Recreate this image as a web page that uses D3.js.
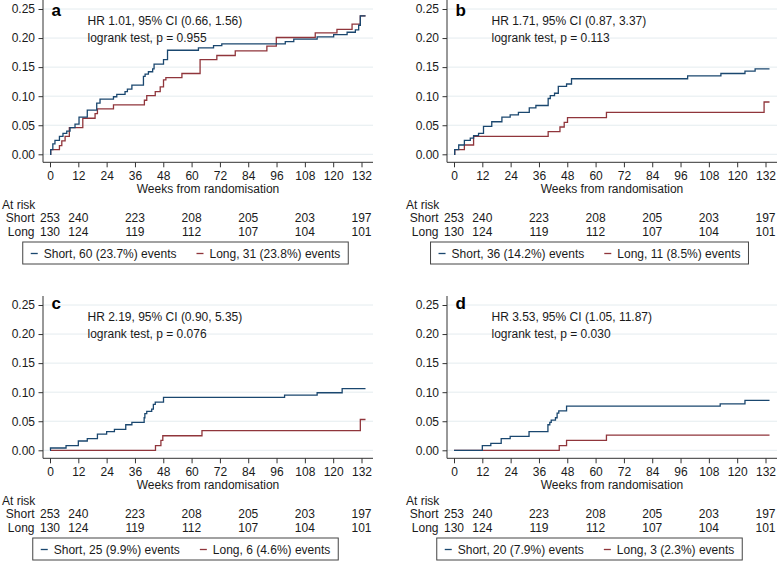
<!DOCTYPE html>
<html><head><meta charset="utf-8">
<script src="https://cdn.jsdelivr.net/npm/d3@7"></script>
<style>
html,body{margin:0;padding:0;background:#fff;}
svg{display:block;font-family:"Liberation Sans",Arial,Helvetica,sans-serif;}
</style></head><body>
<svg id="chart" width="778" height="561"></svg>
<script>
// ---------- data ----------
const xTicks = [0, 12, 24, 36, 48, 60, 72, 84, 96, 108, 120, 132];
const yTicks = [0, 0.05, 0.10, 0.15, 0.20, 0.25];
const atRiskTimes = [0, 12, 36, 60, 84, 108, 132];
const atRiskShort = [253, 240, 223, 208, 205, 203, 197];
const atRiskLong = [130, 124, 119, 112, 107, 104, 101];
const followUpEnd = 133.7;

const panelLetters = ["a", "b", "c", "d"];
const hrTexts = ["HR 1.01, 95% CI (0.66, 1.56)", "HR 1.71, 95% CI (0.87, 3.37)",
                 "HR 2.19, 95% CI (0.90, 5.35)", "HR 3.53, 95% CI (1.05, 11.87)"];
const pTexts = ["logrank test, p = 0.955", "logrank test, p = 0.113",
                "logrank test, p = 0.076", "logrank test, p = 0.030"];
const shortLegend = ["Short, 60 (23.7%) events", "Short, 36 (14.2%) events",
                     "Short, 25 (9.9%) events", "Short, 20 (7.9%) events"];
const longLegend = ["Long, 31 (23.8%) events", "Long, 11 (8.5%) events",
                    "Long, 6 (4.6%) events", "Long, 3 (2.3%) events"];

// cumulative incidence steps: [week, value]
const aShort = [[0,0],[0.3,0.008],[1.2,0.018],[2.1,0.024],[4.0,0.031],[5.5,0.036],[7.1,0.040],[8.5,0.046],[10.6,0.052],[12.3,0.064],[15.8,0.076],[19.8,0.088],[21.2,0.095],[26.9,0.099],[28.3,0.103],[31.8,0.108],[32.8,0.112],[34.7,0.119],[39.6,0.134],[40.3,0.138],[41.7,0.142],[43.5,0.147],[44.1,0.155],[48.1,0.163],[49.8,0.179],[62.9,0.183],[69.3,0.187],[72.8,0.190],[99.7,0.194],[103.3,0.198],[113.2,0.202],[120.2,0.206],[125.9,0.210],[129.4,0.214],[130.8,0.222],[131.5,0.238]];
const aLong = [[0,0],[0.3,0.008],[4.0,0.015],[5.0,0.023],[6.4,0.031],[8.2,0.046],[13.9,0.062],[19.1,0.070],[20.1,0.078],[26.9,0.085],[40.0,0.093],[41.0,0.101],[44.6,0.108],[46.7,0.116],[48.1,0.128],[49.1,0.132],[55.9,0.139],[63.6,0.163],[70.7,0.170],[78.5,0.178],[91.9,0.186],[95.9,0.201],[112.4,0.209],[121.6,0.215],[128.0,0.224],[131.5,0.238]];
const bShort = [[0,0],[0.3,0.008],[2.0,0.016],[4.4,0.024],[6.9,0.028],[8.3,0.032],[10.4,0.036],[12.5,0.048],[16.0,0.056],[20.3,0.064],[23.8,0.068],[27.3,0.072],[31.9,0.080],[34.7,0.084],[39.9,0.096],[40.8,0.101],[42.6,0.105],[44.2,0.117],[47.7,0.121],[49.8,0.130],[99.0,0.135],[113.1,0.139],[123.3,0.143],[127.6,0.147]];
const bLong = [[0,0],[0.3,0.008],[4.4,0.016],[8.3,0.031],[39.9,0.039],[44.9,0.047],[46.7,0.055],[48.1,0.063],[64.6,0.072],[131.4,0.090]];
const cShort = [[0,0],[0.2,0.004],[6.8,0.008],[12.0,0.016],[15.8,0.020],[20.1,0.028],[24.0,0.032],[27.3,0.036],[32.1,0.044],[34.7,0.048],[39.9,0.056],[40.2,0.063],[41.0,0.067],[43.1,0.071],[43.8,0.079],[44.6,0.083],[48.1,0.091],[99.4,0.095],[113.2,0.099],[123.8,0.106]];
const cLong = [[0,0],[44.7,0.008],[47.0,0.017],[47.8,0.025],[64.4,0.034],[131.5,0.053]];
const dShort = [[0,0],[12.0,0.008],[15.6,0.012],[20.0,0.020],[23.8,0.024],[31.8,0.032],[39.8,0.044],[40.6,0.048],[41.2,0.052],[43.0,0.056],[43.7,0.064],[44.4,0.068],[47.7,0.076],[112.8,0.080],[123.3,0.086]];
const dLong = [[0,0],[44.6,0.008],[47.7,0.017],[64.6,0.026]];

const shortSeries = [aShort, bShort, cShort, dShort];
const longSeries = [aLong, bLong, cLong, dLong];

// ---------- drawing ----------
const svg = d3.select("#chart");
const blue = "#1a476f", red = "#90353b";
const gridColor = "#e4ecef", axisColor = "#333", textColor = "#1a1a1a";
const offsets = [[0,0],[404,0],[0,296],[404,296]];
const letterBase = [15.5, 16, 12.5, 13];

const plotL = 43, plotR = 373, plotT = 0, plotB = 162.3;

offsets.forEach((off, i) => {
  const g = svg.append("g").attr("transform", `translate(${off[0]},${off[1]})`);
  const x = d3.scaleLinear().domain([0, 132]).range([50, 361.5]);
  const y = d3.scaleLinear().domain([0, 0.25]).range([154.3, 9]);

  // gridlines
  g.append("g").selectAll("line").data(yTicks).join("line")
    .attr("x1", plotL).attr("x2", plotR)
    .attr("y1", d => y(d)).attr("y2", d => y(d))
    .attr("stroke", gridColor).attr("stroke-width", 1);

  // y axis
  const ya = g.append("g").attr("transform", `translate(${plotL},0)`)
    .call(d3.axisLeft(y).tickValues(yTicks).tickFormat(d3.format(".2f")).tickSize(4.5).tickPadding(3.5));
  ya.select(".domain").remove();
  ya.selectAll("line").attr("stroke", axisColor);
  ya.selectAll("text").attr("font-size", 12).attr("fill", textColor)
    .attr("font-family", "Liberation Sans, Arial, sans-serif");
  g.append("line").attr("x1", plotL).attr("x2", plotL).attr("y1", plotT).attr("y2", plotB)
    .attr("stroke", axisColor).attr("stroke-width", 1);

  // x axis
  const xa = g.append("g").attr("transform", `translate(0,${plotB})`)
    .call(d3.axisBottom(x).tickValues(xTicks).tickFormat(d3.format("d")).tickSize(5).tickPadding(4.5));
  xa.select(".domain").remove();
  xa.selectAll("line").attr("stroke", axisColor);
  xa.selectAll("text").attr("font-size", 12).attr("fill", textColor)
    .attr("font-family", "Liberation Sans, Arial, sans-serif");
  g.append("line").attr("x1", plotL).attr("x2", plotR).attr("y1", plotB).attr("y2", plotB)
    .attr("stroke", axisColor).attr("stroke-width", 1);

  g.append("text").attr("x", (plotL + plotR) / 2).attr("y", 193)
    .attr("text-anchor", "middle").attr("font-size", 12).attr("fill", textColor)
    .text("Weeks from randomisation");

  // curves
  const line = d3.line().x(d => x(d[0])).y(d => y(d[1])).curve(d3.curveStepAfter);
  [[longSeries[i], red], [shortSeries[i], blue]].forEach(([s, col]) => {
    const pts = s.concat([[followUpEnd, s[s.length - 1][1]]]);
    g.append("path").datum(pts).attr("d", line)
      .attr("fill", "none").attr("stroke", col).attr("stroke-width", 1.3);
  });

  // annotations
  g.append("text").attr("x", 51.5).attr("y", letterBase[i]).attr("font-size", 17)
    .attr("font-weight", "bold").attr("fill", "#000").text(panelLetters[i]);
  g.append("text").attr("x", 87.5).attr("y", 25).attr("font-size", 12).attr("fill", textColor).text(hrTexts[i]);
  g.append("text").attr("x", 87.5).attr("y", 42.3).attr("font-size", 12).attr("fill", textColor).text(pTexts[i]);

  // at risk table
  g.append("text").attr("x", 2).attr("y", 208.5).attr("font-size", 12).attr("fill", textColor).text("At risk");
  g.append("text").attr("x", 34.5).attr("y", 222.2).attr("text-anchor", "end").attr("font-size", 12).attr("fill", textColor).text("Short");
  g.append("text").attr("x", 34.5).attr("y", 235.5).attr("text-anchor", "end").attr("font-size", 12).attr("fill", textColor).text("Long");
  g.append("g").selectAll("text").data(atRiskTimes).join("text")
    .attr("x", d => x(d)).attr("y", 222.2).attr("text-anchor", "middle").attr("font-size", 12).attr("fill", textColor)
    .text((d, j) => atRiskShort[j]);
  g.append("g").selectAll("text").data(atRiskTimes).join("text")
    .attr("x", d => x(d)).attr("y", 235.5).attr("text-anchor", "middle").attr("font-size", 12).attr("fill", textColor)
    .text((d, j) => atRiskLong[j]);

  // legend
  const lg = g.append("g");
  const box = lg.append("rect");
  const t1 = lg.append("text").attr("font-size", 12).attr("fill", textColor).attr("y", 257.8).text(shortLegend[i]);
  const t2 = lg.append("text").attr("font-size", 12).attr("fill", textColor).attr("y", 257.8).text(longLegend[i]);
  const w1 = t1.node().getComputedTextLength(), w2 = t2.node().getComputedTextLength();
  const pad = 8, dash = 7, gap = 6, between = 20;
  const W = pad + dash + gap + w1 + between + dash + gap + w2 + pad;
  const left = 185.5 - W / 2;
  box.attr("x", left).attr("y", 242).attr("width", W).attr("height", 22)
    .attr("fill", "#fff").attr("stroke", "#444").attr("stroke-width", 1);
  const d1 = left + pad;
  lg.append("line").attr("x1", d1).attr("x2", d1 + dash).attr("y1", 253.5).attr("y2", 253.5)
    .attr("stroke", blue).attr("stroke-width", 1.3);
  t1.attr("x", d1 + dash + gap);
  const d2 = d1 + dash + gap + w1 + between;
  lg.append("line").attr("x1", d2).attr("x2", d2 + dash).attr("y1", 253.5).attr("y2", 253.5)
    .attr("stroke", red).attr("stroke-width", 1.3);
  t2.attr("x", d2 + dash + gap);
});
</script>
</body></html>
